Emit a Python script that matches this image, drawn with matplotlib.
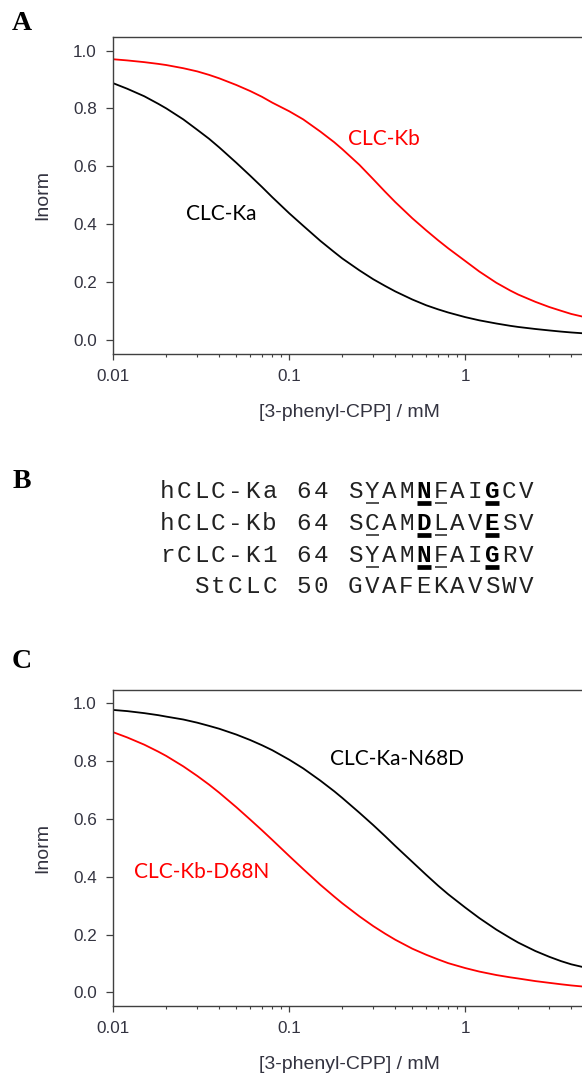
import numpy as np
import matplotlib.pyplot as plt
from matplotlib.ticker import FixedLocator, LogLocator, FuncFormatter, NullFormatter

# concentration of 3-phenyl-CPP (mM)
conc = [0.01, 0.012, 0.015, 0.018, 0.02, 0.025, 0.03, 0.035, 0.04, 0.05,
        0.06, 0.07, 0.08, 0.1, 0.12, 0.15, 0.18, 0.2, 0.25, 0.3,
        0.35, 0.4, 0.5, 0.6, 0.7, 0.8, 1, 1.2, 1.5, 1.8,
        2, 2.5, 3, 3.5, 4, 4.7]

# panel A
ka_wt = [0.887, 0.868, 0.842, 0.816, 0.800, 0.762, 0.726, 0.695, 0.665, 0.612,
         0.567, 0.528, 0.493, 0.437, 0.394, 0.342, 0.303, 0.281, 0.240, 0.209,
         0.186, 0.167, 0.139, 0.119, 0.105, 0.094, 0.078, 0.067, 0.056, 0.048,
         0.044, 0.037, 0.032, 0.028, 0.025, 0.022]
kb_wt = [0.970, 0.966, 0.960, 0.954, 0.950, 0.939, 0.928, 0.916, 0.904, 0.881,
         0.860, 0.840, 0.820, 0.790, 0.762, 0.720, 0.683, 0.659, 0.605, 0.555,
         0.512, 0.476, 0.420, 0.378, 0.344, 0.316, 0.272, 0.236, 0.197, 0.170,
         0.156, 0.131, 0.113, 0.100, 0.089, 0.079]

# panel C
ka_n68d = [0.976, 0.972, 0.965, 0.958, 0.953, 0.943, 0.932, 0.921, 0.911, 0.891,
           0.872, 0.854, 0.837, 0.804, 0.774, 0.732, 0.695, 0.672, 0.621, 0.578,
           0.540, 0.506, 0.451, 0.406, 0.369, 0.339, 0.293, 0.257, 0.217, 0.188,
           0.172, 0.143, 0.123, 0.108, 0.097, 0.087]
kb_d68n = [0.899, 0.881, 0.856, 0.832, 0.817, 0.781, 0.748, 0.718, 0.690, 0.640,
           0.597, 0.560, 0.527, 0.471, 0.426, 0.372, 0.331, 0.308, 0.263, 0.229,
           0.203, 0.182, 0.151, 0.130, 0.114, 0.101, 0.084, 0.072, 0.060, 0.052,
           0.048, 0.039, 0.033, 0.028, 0.024, 0.020]

# panel B alignment
names = ['hCLC-Ka', 'hCLC-Kb', 'rCLC-K1', 'StCLC']
starts = [64, 64, 64, 50]
seqs = ['SYAMNFAIGCV', 'SCAMDLAVESV', 'SYAMNFAIGRV', 'GVAFEKAVSWV']
bold_pos = [[4, 8], [4, 8], [4, 8], []]
thin_pos = [[1, 5], [1, 5], [1, 5], []]

W, H = 582, 1077
fig = plt.figure(figsize=(W / 100, H / 100), dpi=100)
TICKC = '#333340'
SPINEC = '#404040'


def px_axes(left, top, right, bottom):
    return fig.add_axes([left / W, 1 - bottom / H, (right - left) / W, (bottom - top) / H])


def style_axes(ax, ylo, yhi):
    ax.set_xscale('log')
    ax.set_xlim(0.01, 10)
    ax.set_ylim(ylo, yhi)
    ax.xaxis.set_major_locator(FixedLocator([0.01, 0.1, 1]))
    ax.xaxis.set_major_formatter(FuncFormatter(lambda v, p: f'{v:g}'))
    ax.xaxis.set_minor_locator(LogLocator(base=10, subs=np.arange(2, 10)))
    ax.xaxis.set_minor_formatter(NullFormatter())
    ax.set_yticks([0.0, 0.2, 0.4, 0.6, 0.8, 1.0])
    ax.yaxis.set_major_formatter(FuncFormatter(lambda v, p: f'{v:.1f}'))
    ax.spines['right'].set_visible(False)
    for s in ax.spines.values():
        s.set_color(SPINEC)
        s.set_linewidth(1.0)
    ax.tick_params(axis='x', which='major', length=4.3, width=0.9, pad=6.5,
                   color=SPINEC, labelcolor=TICKC, labelsize=12.3)
    ax.tick_params(axis='x', which='minor', length=2.5, width=0.8, color=SPINEC)
    ax.tick_params(axis='y', which='major', length=5.3, width=0.9, pad=6.5,
                   color=SPINEC, labelcolor=TICKC, labelsize=12.3)
    for lab in ax.get_xticklabels() + ax.get_yticklabels():
        lab.set_family('Liberation Sans')
    ax.set_xlabel('[3-phenyl-CPP] / mM', family='Liberation Sans', fontsize=14,
                  color=TICKC, va='center')
    ax.set_ylabel('Inorm', family='Liberation Sans', fontsize=14,
                  color=TICKC, va='center')
    h = ax.get_position().height * H
    ax.xaxis.set_label_coords(0.503 * 468.7 / 528, -58.5 / h)
    ax.yaxis.set_label_coords(-70.8 / 528, 0.5)


right = 113.3 + 3 * 176

# panel A
axA = px_axes(113.3, 37, right, 354)
axA.plot(conc, kb_wt, color='#ff0000', lw=1.3)
axA.plot(conc, ka_wt, color='black', lw=1.3)
style_axes(axA, -0.0495, 1.047)

# panel C
axC = px_axes(113.3, 689.7, right, 1005.7)
axC.plot(conc, ka_n68d, color='black', lw=1.3)
axC.plot(conc, kb_d68n, color='#ff0000', lw=1.3)
style_axes(axC, -0.046, 1.046)

# overlay in pixel coordinates for labels and the alignment
ov = fig.add_axes([0, 0, 1, 1], zorder=5)
ov.set_xlim(0, W)
ov.set_ylim(H, 0)
ov.axis('off')
ov.patch.set_alpha(0)

for letter, y in zip(['A', 'B', 'C'], [24, 482, 662]):
    ov.text(21.5, y, letter, family='Liberation Serif', weight='bold',
            fontsize=20, ha='center', va='center')

lab_font = dict(family='Lato', fontsize=15, ha='center', va='center')
ov.text(384, 139, 'CLC-Kb', color='#ff0000', **lab_font)
ov.text(221, 214, 'CLC-Ka', color='black', **lab_font)
ov.text(397, 759, 'CLC-Ka-N68D', color='black', **lab_font)
ov.text(202, 872, 'CLC-Kb-D68N', color='#ff0000', **lab_font)

pitch = 17.1
x0 = 346.5 - 11 * pitch
baselines = [498.3, 530.0, 561.7, 593.4]
for r in range(4):
    line = f'{names[r]:>7} {starts[r]} {seqs[r]}'
    for i, ch in enumerate(line):
        j = i - 11
        bold = j in bold_pos[r]
        ov.text(x0 + (i + 0.5) * pitch, baselines[r], ch, family='Liberation Mono',
                fontsize=17.5, ha='center', va='baseline',
                weight='bold' if bold else 'normal',
                color='black' if bold else '#222222')
    yu = baselines[r] + 5
    for j in bold_pos[r]:
        cx = x0 + (11 + j) * pitch
        ov.plot([cx + 2, cx + 16], [yu, yu], color='black', lw=3.4,
                solid_capstyle='butt')
    for j in thin_pos[r]:
        cx = x0 + (11 + j) * pitch
        ov.plot([cx + 2.5, cx + 15], [yu, yu], color='#222222', lw=1.1,
                solid_capstyle='butt')

fig.savefig('out.png', dpi=100)
